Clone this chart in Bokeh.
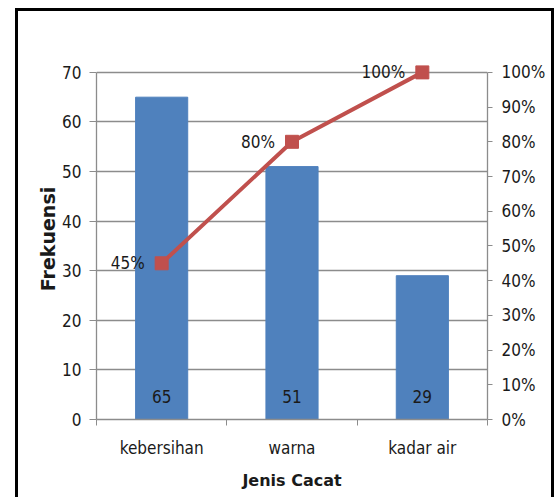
from bokeh.plotting import figure
from bokeh.models import (Range1d, LinearAxis, FixedTicker, NumeralTickFormatter,
                          ColumnDataSource, LabelSet)
from bokeh.core.properties import value
from bokeh.embed import file_html
from bokeh.resources import INLINE

# Pareto data: defect types, frequencies and cumulative share
categories = ["kebersihan", "warna", "kadar air"]
frekuensi = [65, 51, 29]
kumulatif = [0.45, 0.80, 1.00]
kumulatif_labels = ["45%", "80%", "100%"]
y_ticks = [0, 10, 20, 30, 40, 50, 60, 70]
pct_ticks = [0.0, 0.1, 0.2, 0.3, 0.4, 0.5, 0.6, 0.7, 0.8, 0.9, 1.0]

BAR = "#4F81BD"
LINE = "#C0504D"
GRID = "#8c8c8c"
TXT = "#1a1a1a"
FONT = "DejaVu Sans Condensed"
TITLE_FONT = "DejaVu Sans"

# a little headroom above the 70 / 100% line so the top marker is not cut
HEAD = 1.04

xs = [i + 1 for i in range(len(categories))]
src = ColumnDataSource(dict(
    x=xs, f=frekuensi, flabel=[str(v) for v in frekuensi],
    c=kumulatif, clabel=kumulatif_labels,
))

p = figure(width=533, height=486, output_backend="svg", toolbar_location=None,
           x_range=Range1d(0.5, len(categories) + 0.5),
           y_range=Range1d(0, y_ticks[-1] * HEAD),
           min_border_left=78, min_border_right=70, min_border_top=47,
           min_border_bottom=81)
p.outline_line_color = None
p.background_fill_color = "white"
p.border_fill_color = "white"
p.extra_y_ranges = {"pct": Range1d(0, HEAD)}
# chart border (open at the bottom edge of the page)
p.styles = {
    "margin-left": "15px", "margin-top": "8px",
    "border-left": "3px solid black", "border-top": "3px solid black",
    "border-right": "3px solid black", "box-sizing": "content-box",
}

# grid
p.xgrid.visible = False
p.ygrid.ticker = FixedTicker(ticks=y_ticks)
p.ygrid.grid_line_color = GRID
p.ygrid.grid_line_width = 1.3

# left axis
ya = p.yaxis[0]
ya.ticker = FixedTicker(ticks=y_ticks)
ya.bounds = (0, y_ticks[-1])
ya.axis_label = "Frekuensi"
ya.axis_label_text_font = TITLE_FONT
ya.axis_label_text_font_style = "bold"
ya.axis_label_text_font_size = "19px"
ya.axis_label_text_color = TXT
ya.axis_label_standoff = 0
ya.major_label_text_font = FONT
ya.major_label_text_font_size = "17px"
ya.major_label_text_color = TXT
ya.major_label_standoff = 8
ya.axis_line_color = GRID
ya.axis_line_width = 1.3
ya.major_tick_line_color = GRID
ya.major_tick_out = 7
ya.major_tick_in = 0
ya.minor_tick_line_color = None

# bottom axis: labels at category centres, tick marks at boundaries
xa = p.xaxis[0]
xa.ticker = FixedTicker(ticks=xs, minor_ticks=[x - 0.5 for x in xs] + [xs[-1] + 0.5])
xa.major_label_overrides = {x: c for x, c in zip(xs, categories)}
xa.major_tick_line_color = None
xa.minor_tick_line_color = GRID
xa.minor_tick_out = 6
xa.minor_tick_in = 0
xa.axis_line_color = GRID
xa.axis_line_width = 1.3
xa.major_label_text_font = FONT
xa.major_label_text_font_size = "17px"
xa.major_label_text_color = TXT
xa.major_label_standoff = 12
xa.axis_label = "Jenis Cacat"
xa.axis_label_text_font = TITLE_FONT
xa.axis_label_text_font_style = "bold"
xa.axis_label_text_font_size = "16px"
xa.axis_label_text_color = TXT
xa.axis_label_standoff = 10

# right axis: cumulative percentage
ra = LinearAxis(y_range_name="pct", ticker=FixedTicker(ticks=pct_ticks),
                formatter=NumeralTickFormatter(format="0%"), bounds=(0, 1))
ra.major_label_text_font = FONT
ra.major_label_text_font_size = "17px"
ra.major_label_text_color = TXT
ra.major_label_standoff = 9
ra.axis_line_color = GRID
ra.axis_line_width = 1.3
ra.major_tick_line_color = GRID
ra.major_tick_out = 5
ra.major_tick_in = 0
ra.minor_tick_line_color = None
p.add_layout(ra, "right")

# bars with value labels near the base
p.vbar(x="x", top="f", width=0.4, source=src, fill_color=BAR, line_color=BAR)
p.add_layout(LabelSet(x="x", y=0, text="flabel", source=src, y_offset=23,
                      text_align="center", text_baseline="middle", text_color=TXT,
                      text_font=value(FONT), text_font_size="17px"))

# cumulative line
p.line(x="x", y="c", source=src, y_range_name="pct", line_color=LINE, line_width=4)
p.scatter(x="x", y="c", source=src, y_range_name="pct", marker="square", size=13,
          fill_color=LINE, line_color=LINE)
p.add_layout(LabelSet(x="x", y="c", text="clabel", source=src, y_range_name="pct",
                      x_offset=-17, text_align="right", text_baseline="middle",
                      text_color=TXT, text_font=value(FONT), text_font_size="17px"))

open("out.html", "w").write(file_html(p, INLINE))
